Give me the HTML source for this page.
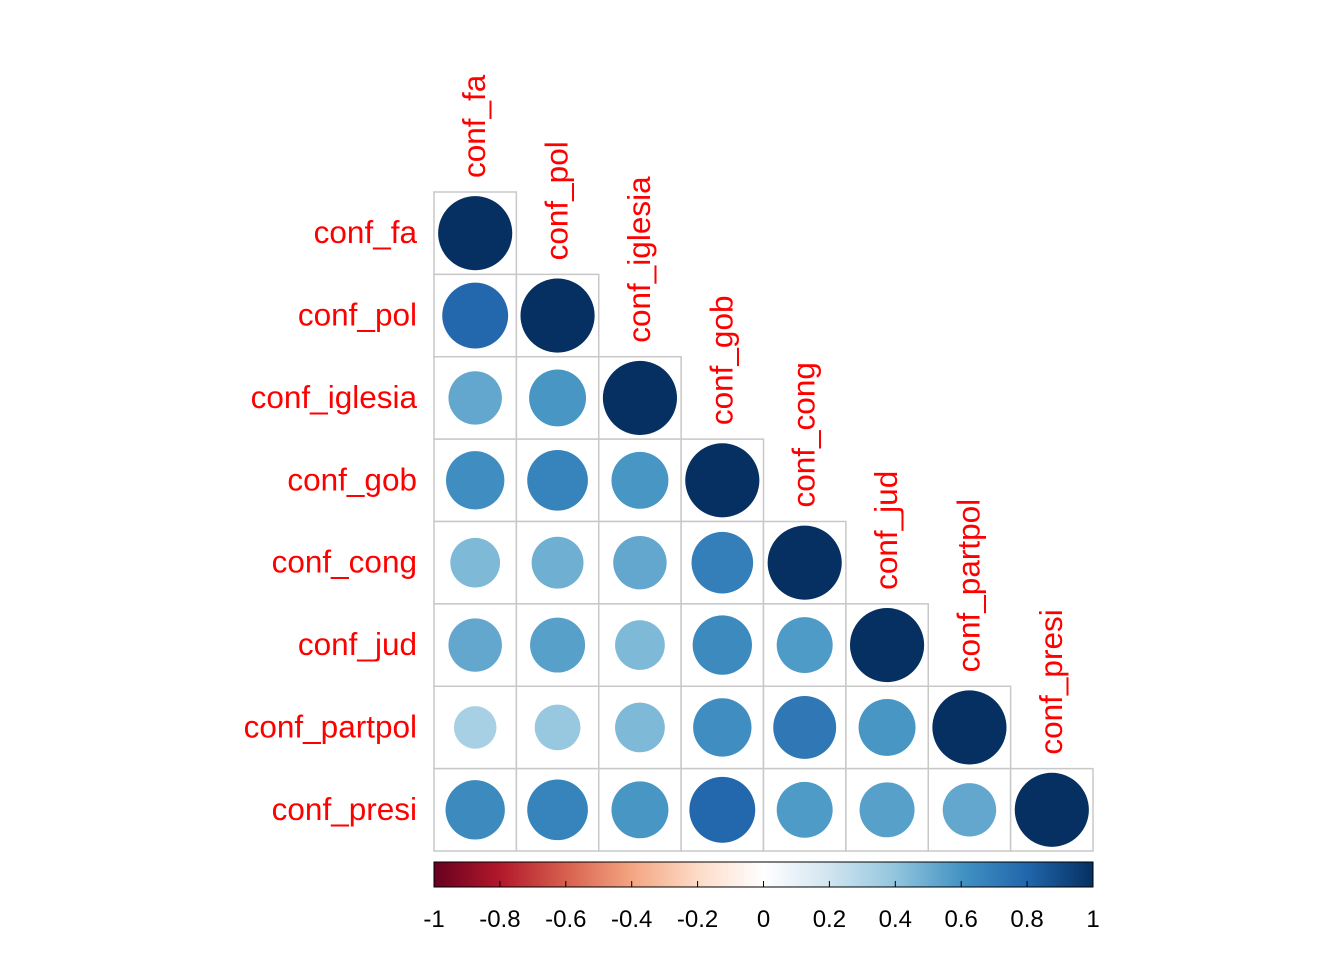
<!DOCTYPE html>
<html><head><meta charset="utf-8"><style>
html,body{margin:0;padding:0;background:#fff;}
svg text{font-family:"Liberation Sans",Arial,sans-serif;}
</style></head><body>
<svg id="chart" width="1344" height="960" xmlns="http://www.w3.org/2000/svg"></svg>
<script>
const labels = ["conf_fa","conf_pol","conf_iglesia","conf_gob","conf_cong","conf_jud","conf_partpol","conf_presi"];
const row0 = [1];
const row1 = [0.79,1];
const row2 = [0.52,0.59,1];
const row3 = [0.62,0.67,0.59,1];
const row4 = [0.45,0.49,0.52,0.69,1];
const row5 = [0.52,0.55,0.45,0.64,0.57,1];
const row6 = [0.33,0.38,0.45,0.62,0.72,0.59,1];
const row7 = [0.64,0.67,0.59,0.79,0.57,0.55,0.52,1];
const corr = [row0,row1,row2,row3,row4,row5,row6,row7];
const tickVals = [-1,-0.8,-0.6,-0.4,-0.2,0,0.2,0.4,0.6,0.8,1];
const palette = ["#67001F","#B2182B","#D6604D","#F4A582","#FDDBC7","#FFFFFF","#D1E5F0","#92C5DE","#4393C3","#2166AC","#053061"];

const NS="http://www.w3.org/2000/svg";
const svg=document.getElementById('chart');
const x0=434, y0=192, n=labels.length, cell=(1093-434)/n;
function mk(t,a,p){const e=document.createElementNS(NS,t);for(const k in a)e.setAttribute(k,a[k]);(p||svg).appendChild(e);return e;}
function hex(h){return [1,3,5].map(i=>parseInt(h.substr(i,2),16));}
function colorOf(v){const t=(v+1)/2*(palette.length-1);const i=Math.min(Math.floor(t),palette.length-2);const f=t-i;
 const a=hex(palette[i]),b=hex(palette[i+1]);return 'rgb('+a.map((c,j)=>Math.round(c+(b[j]-c)*f)).join(',')+')';}
const cx=j=>x0+(j+0.5)*cell, cy=i=>y0+(i+0.5)*cell;

for(let i=0;i<n;i++){
  for(let j=0;j<=i;j++){
    const r=mk('rect',{x:x0+j*cell,y:y0+i*cell,width:cell,height:cell,fill:'#fff',stroke:'#c8c8c8','stroke-width':1.5});
    
    
  }
}
for(let i=0;i<n;i++){
  for(let j=0;j<=i;j++){
    const v=corr[i][j];
    const c=mk('circle',{cx:cx(j),cy:cy(i),r:cell*0.45*Math.sqrt(Math.abs(v)),fill:colorOf(v)});
    
    
  }
  const t=mk('text',{x:417,y:cy(i)+10,'text-anchor':'end','font-size':31.5,fill:'#ff0000'});
  t.textContent=labels[i];
  
  
  const tx=cx(i)+10, ty=y0+i*cell-14;
  const ct=mk('text',{x:tx,y:ty,'text-anchor':'start','font-size':31.5,fill:'#ff0000',transform:'rotate(-90 '+tx+' '+ty+')'});
  ct.textContent=labels[i];
  
  
}
const bx0=434,bx1=1093,by=862,bh=25;
const defs=mk('defs',{});
const g=mk('linearGradient',{id:'grad',x1:0,x2:1,y1:0,y2:0},defs);
palette.forEach((c,k)=>mk('stop',{offset:k/(palette.length-1),'stop-color':c},g));
const bar=mk('rect',{x:bx0,y:by,width:bx1-bx0,height:bh,fill:'url(#grad)',stroke:'#000','stroke-width':1});


const bxs=v=>bx0+(v+1)/2*(bx1-bx0);
tickVals.forEach(v=>{
  const x=bxs(v);
  const l=mk('line',{x1:x,x2:x,y1:by+bh-6,y2:by+bh,stroke:'#000','stroke-width':1});
  
  
  const t=mk('text',{x:x,y:927,'text-anchor':'middle','font-size':24,fill:'#000'});
  t.textContent=String(v);
  
  
});
</script>
</body></html>
